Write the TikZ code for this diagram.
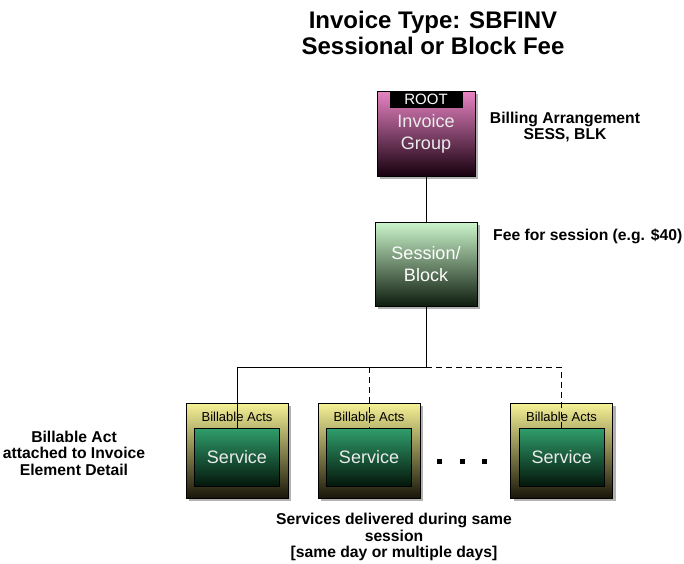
\documentclass[tikz,border=0pt]{standalone}
\usepackage{fontspec}
\setmainfont{Liberation Sans}
\usetikzlibrary{shadows}

\definecolor{grptop}{RGB}{232,132,196}
\definecolor{grpbot}{RGB}{22,0,14}
\definecolor{sesstop}{RGB}{204,246,204}
\definecolor{sessbot}{RGB}{14,28,14}
\definecolor{acttop}{RGB}{246,242,150}
\definecolor{actbot}{RGB}{24,22,8}
\definecolor{svctop}{RGB}{48,158,108}
\definecolor{svcbot}{RGB}{4,22,10}

\tikzset{
  boxshadow/.style={drop shadow={shadow xshift=3pt, shadow yshift=-3pt, fill=black!30, opacity=1}},
  grpbox/.style={draw, line width=0.8pt, top color=grptop, bottom color=grpbot, boxshadow,
    minimum width=98pt, minimum height=85pt, inner sep=0pt, align=center,
    text=white!92!black, font=\fontsize{18}{22}\selectfont},
  rootbox/.style={fill=black, text=white, minimum width=73pt, minimum height=17pt,
    inner sep=0pt, font=\fontsize{15}{15}\selectfont},
  sessbox/.style={draw, line width=0.8pt, top color=sesstop, bottom color=sessbot, boxshadow,
    minimum width=102pt, minimum height=84pt, inner sep=0pt, align=center,
    text=white, font=\fontsize{18}{22}\selectfont},
  actbox/.style={draw, line width=0.8pt, top color=acttop, bottom color=actbot, boxshadow,
    minimum width=102pt, minimum height=95pt, inner sep=0pt},
  acttxt/.style={inner sep=0pt, font=\fontsize{13}{13}\selectfont},
  svcbox/.style={draw, line width=0.8pt, top color=svctop, bottom color=svcbot,
    minimum width=85pt, minimum height=58pt, inner sep=0pt,
    text=white!92!black, font=\fontsize{18}{18}\selectfont},
  lbl/.style={inner sep=0pt, align=center, font=\bfseries\fontsize{15.7}{16.5}\selectfont},
  wire/.style={line width=0.8pt},
  dashwire/.style={wire, dash pattern=on 6pt off 4pt}
}

\begin{document}
\begin{tikzpicture}[x=1pt, y=-1pt]
\useasboundingbox (0,0) rectangle (684,563);

% ── Title ─────────────────────────────────────────────────────
\node[inner sep=0pt, align=center, font=\bfseries\fontsize{24}{26}\selectfont] (title)
    at (433,33) {Invoice Type: SBFINV\\Sessional or Block Fee};

% ── Invoice group (root) ──────────────────────────────────────
\node[grpbox] (grp) at (426,133.5) {Invoice\\Group};
\node[rootbox, anchor=north] (root) at (grp.north) {ROOT};
\node[lbl] (billing) at (565,127) {Billing Arrangement\\SESS, BLK};

% ── Session / block fee ───────────────────────────────────────
\node[sessbox] (sess) at (426,264) {Session/\\Block};
\node[lbl, anchor=west] (fee) at (493,236) {Fee for session (e.g. \$40)};

% ── Billable acts with services ───────────────────────────────
\foreach \i/\x in {1/237, 2/369, 3/561.5} {
  \node[actbox] (act\i) at (\x,450.5) {};
  \node[acttxt] (acttxt\i) at (\x,417) {Billable Acts};
  \node[svcbox] (svc\i) at (\x,457) {Service};
}

% ── more services ─────────────────────────────────────────────
\foreach \x in {439,462,484}
  \fill (\x-2.5,458.5) rectangle ++(5,5);

% ── Connectors ────────────────────────────────────────────────
\coordinate (bus) at (426,367);
\draw[wire] (grp.south) -- (sess.north);
\draw[wire] (sess.south) -- (bus) -| (svc1.north);
\draw[dashwire] (bus) -| (svc3.north);
\draw[dashwire] (svc2.north |- bus) -- (svc2.north);

% ── Notes ─────────────────────────────────────────────────────
\node[lbl] (actnote) at (74,453) {Billable Act\\attached to Invoice\\Element Detail};
\node[lbl] (svcnote) at (394,537) {Services delivered during same\\session\\{[same day or multiple days]}};

\end{tikzpicture}
\end{document}
